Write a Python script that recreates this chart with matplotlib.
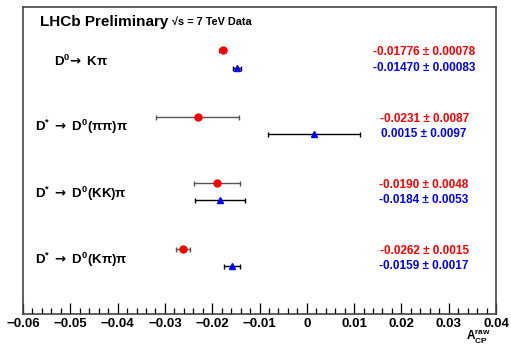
import matplotlib
matplotlib.use("Agg")
import matplotlib.pyplot as plt
from matplotlib.ticker import MultipleLocator

plt.rcParams["font.family"] = ["Liberation Sans", "DejaVu Sans"]
plt.rcParams["font.weight"] = "bold"
plt.rcParams["mathtext.fontset"] = "custom"
plt.rcParams["mathtext.rm"] = "Liberation Sans:bold"
plt.rcParams["mathtext.bf"] = "Liberation Sans:bold"
plt.rcParams["mathtext.it"] = "Liberation Sans:bold"
plt.rcParams["mathtext.sf"] = "DejaVu Sans:bold"

# decay channels, top to bottom
channels = [r"D$^{0}\!\mathsf{\rightarrow}$ K$\mathrm{\pi}$",
            r"D$^{*}$ $\mathsf{\rightarrow}$ D$^{0}$($\mathrm{\pi\pi}$)$\mathrm{\pi}$",
            r"D$^{*}$ $\mathsf{\rightarrow}$ D$^{0}$(KK)$\mathrm{\pi}$",
            r"D$^{*}$ $\mathsf{\rightarrow}$ D$^{0}$(K$\mathrm{\pi}$)$\mathrm{\pi}$"]

# red series (upper point of each pair)
red_val = [-0.01776, -0.0231, -0.0190, -0.0262]
red_err = [0.00078, 0.0087, 0.0048, 0.0015]
red_txt = ["-0.01776", "-0.0231", "-0.0190", "-0.0262"]
red_etxt = ["0.00078", "0.0087", "0.0048", "0.0015"]

# blue series (lower point of each pair)
blue_val = [-0.01470, 0.0015, -0.0184, -0.0159]
blue_err = [0.00083, 0.0097, 0.0053, 0.0017]
blue_txt = ["-0.01470", "0.0015", "-0.0184", "-0.0159"]
blue_etxt = ["0.00083", "0.0097", "0.0053", "0.0017"]

W, H = 511, 345
fig = plt.figure(figsize=(W / 100, H / 100), dpi=100)
ax = fig.add_axes([23 / W, 1 - 314 / H, 473 / W, 307 / H])

off = 0.13
idx = list(range(len(channels)))
y_red = [i - off for i in idx]
y_blue = [i + off for i in idx]

ax.errorbar(red_val, y_red, xerr=red_err, fmt="o", color="red", ms=5,
            ecolor="#555555", elinewidth=1.0, capsize=1.8, capthick=1.0, zorder=3)
ax.errorbar(blue_val, y_blue, xerr=blue_err, fmt="^", color="blue", ms=4.2,
            ecolor="black", elinewidth=1.0, capsize=1.8, capthick=1.0, zorder=3)

for i in idx:
    ax.text(0.1226, i + 0.03, channels[i], transform=ax.get_yaxis_transform(),
            ha="center", va="center", fontsize=9.5)
    ax.text(0.848, y_red[i] + 0.03, red_txt[i] + " ± " + red_etxt[i],
            transform=ax.get_yaxis_transform(), ha="center", va="center",
            fontsize=8.5, color="red", fontweight="bold")
    ax.text(0.848, y_blue[i], blue_txt[i] + " ± " + blue_etxt[i],
            transform=ax.get_yaxis_transform(), ha="center", va="center",
            fontsize=8.5, color="blue", fontweight="bold")

ax.set_xlim(-0.06, 0.04)
ax.set_ylim(3.85, -0.785)
ax.xaxis.set_major_locator(MultipleLocator(0.01))
ax.xaxis.set_minor_locator(MultipleLocator(0.002))
ax.xaxis.set_major_formatter(plt.FuncFormatter(
    lambda v, p: "0" if abs(v) < 1e-9 else ("%.2f" % v).replace("-", "\u2212")))
ax.tick_params(axis="x", which="major", direction="in", length=8, width=0.9,
               labelsize=9.5, pad=3)
ax.tick_params(axis="x", which="minor", direction="in", length=4, width=0.9)
ax.tick_params(axis="y", left=False, labelleft=False)
for s in ax.spines.values():
    s.set_color("#444444")
    s.set_linewidth(1.2)

fig.text(40 / W, 1 - 22 / H, "LHCb Preliminary", fontsize=11, fontweight="bold",
         ha="left", va="center")
fig.text(172 / W, 1 - 22 / H, "\u221As = 7 TeV Data", fontsize=7.8,
         fontweight="bold", ha="left", va="center")
fig.text(478 / W, 1 - 345 / H, r"A$_{\mathrm{CP}}^{\mathrm{raw}}$",
         fontsize=8.5, ha="center", va="bottom")

fig.savefig("out.png", dpi=100)
